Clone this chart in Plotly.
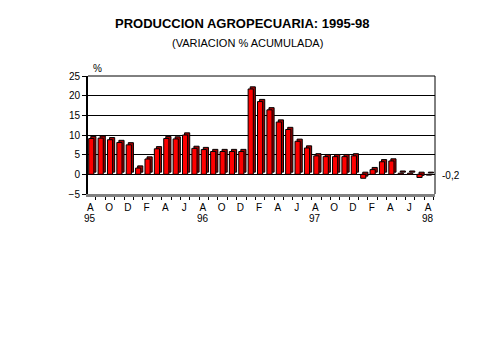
import plotly.graph_objects as go

# Data: monthly values Aug 1995 - Aug 1998
months = ["Ago95", "Sep95", "Oct95", "Nov95", "Dic95",
          "Ene96", "Feb96", "Mar96", "Abr96", "May96", "Jun96", "Jul96",
          "Ago96", "Sep96", "Oct96", "Nov96", "Dic96",
          "Ene97", "Feb97", "Mar97", "Abr97", "May97", "Jun97", "Jul97",
          "Ago97", "Sep97", "Oct97", "Nov97", "Dic97",
          "Ene98", "Feb98", "Mar98", "Abr98", "May98", "Jun98", "Jul98", "Ago98"]
values = [9.1, 9.2, 8.8, 8.1, 7.5,
          1.6, 3.9, 6.5, 9.1, 9.0, 10.0, 6.6,
          6.3, 5.8, 5.8, 5.8, 5.8,
          21.7, 18.5, 16.4, 13.3, 11.4, 8.4, 6.7,
          4.7, 4.5, 4.5, 4.5, 4.7,
          -1.0, 1.2, 3.2, 3.4, 0.3, 0.3, -0.8, -0.2]
tick_labels = ["A", "O", "D", "F", "A", "J", "A", "O", "D", "F", "A", "J",
               "A", "O", "D", "F", "A", "J", "A"]
year_labels = ["95", "96", "97", "98"]
y_ticks = [-5, 0, 5, 10, 15, 20, 25]
last_label = "-0,2"

x = list(range(len(values)))
tick_pos = x[::2]
year_pos = x[::12]

depth_y = 0.55
depth_x = 0.22

FONT = "Liberation Sans, Arial, sans-serif"

# page body has an 8px offset; figure placed at (8,8)
OFF = 8
L, T, R, B = 88 - OFF, 76 - OFF, 44, 165
W, H = 479 - OFF, 359 - OFF
PH = H - T - B
PW = W - L - R


def py(page_y):
    return (H - B - (page_y - OFF)) / PH


def px(page_x):
    return (page_x - OFF - L) / PW


fig = go.Figure()
# 3D depth (back face / top cap)
fig.add_trace(go.Bar(
    x=[i + depth_x for i in x], y=values, base=[depth_y] * len(values),
    width=0.55, marker=dict(color="#a00000", line=dict(color="black", width=1)),
    hoverinfo="skip", showlegend=False))
# Front face
fig.add_trace(go.Bar(
    x=x, y=values, width=0.55,
    marker=dict(color="#ff0000", line=dict(color="black", width=1)),
    showlegend=False))

annotations = [
    dict(text="<b>PRODUCCION AGROPECUARIA: 1995-98</b>", xref="paper", yref="paper",
         x=px(242), y=py(23), showarrow=False, font=dict(family=FONT, size=13),
         xanchor="center", yanchor="middle"),
    dict(text="(VARIACION % ACUMULADA)", xref="paper", yref="paper",
         x=px(247), y=py(43), showarrow=False, font=dict(family=FONT, size=11),
         xanchor="center", yanchor="middle"),
    dict(text="%", xref="paper", yref="paper",
         x=px(97), y=py(69), showarrow=False, font=dict(family=FONT, size=10),
         xanchor="center", yanchor="middle"),
    dict(text=last_label, xref="paper", yref="y",
         x=px(451), y=values[-1], showarrow=False, font=dict(family=FONT, size=10),
         xanchor="center", yanchor="middle"),
]
for xp, yl in zip(year_pos, year_labels):
    annotations.append(dict(text=yl, xref="x", yref="paper", x=xp - 0.1, y=py(218),
                            showarrow=False, font=dict(family=FONT, size=10),
                            xanchor="center", yanchor="middle"))

fig.update_layout(
    barmode="overlay",
    width=W, height=H,
    margin=dict(l=L, r=R, t=T, b=B),
    paper_bgcolor="white", plot_bgcolor="white",
    font=dict(family=FONT, size=10, color="black"),
    xaxis=dict(
        range=[-0.35, 36.65],
        tickmode="array", tickvals=[p - 0.1 for p in tick_pos], ticktext=tick_labels,
        ticks="", showgrid=False, zeroline=False,
        showline=True, linecolor="#808080", linewidth=3,
        tickfont=dict(family=FONT, size=10),
        ticklabelstandoff=2,
        minor=dict(tickmode="linear", tick0=0.5, dtick=1, ticks="outside",
                   ticklen=3, tickcolor="black", showgrid=False),
    ),
    yaxis=dict(
        range=[-5, 25], tickvals=y_ticks,
        showgrid=True, gridcolor="black", gridwidth=1,
        zeroline=True, zerolinecolor="black", zerolinewidth=1,
        showline=True, linecolor="black", linewidth=2,
        ticks="outside", ticklen=4, tickcolor="black",
        tickfont=dict(family=FONT, size=10),
    ),
    shapes=[
        dict(type="line", xref="paper", yref="paper", x0=1, x1=1, y0=0, y1=1,
             line=dict(color="black", width=1)),
        dict(type="line", xref="paper", yref="paper", x0=0, x1=1, y0=1, y1=1,
             line=dict(color="black", width=1)),
    ],
    annotations=annotations,
)

fig.write_html("out.html")
